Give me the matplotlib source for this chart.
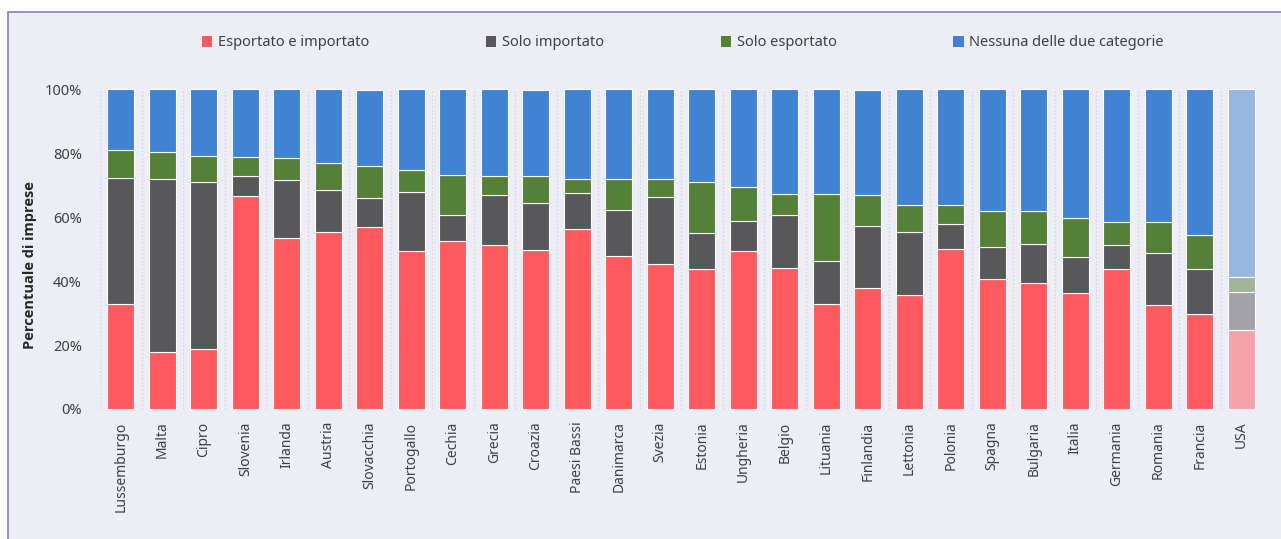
import matplotlib.pyplot as plt
from matplotlib.patches import Rectangle, Patch
import numpy as np

plt.rcParams['font.family'] = ['Noto Sans', 'DejaVu Sans']

paesi = ['Lussemburgo', 'Malta', 'Cipro', 'Slovenia', 'Irlanda', 'Austria',
         'Slovacchia', 'Portogallo', 'Cechia', 'Grecia', 'Croazia',
         'Paesi Bassi', 'Danimarca', 'Svezia', 'Estonia', 'Ungheria',
         'Belgio', 'Lituania', 'Finlandia', 'Lettonia', 'Polonia', 'Spagna',
         'Bulgaria', 'Italia', 'Germania', 'Romania', 'Francia', 'USA']

# quote percentuali per categoria di impresa
esp_imp = [32.9, 17.7, 18.8, 66.7, 53.5, 55.5, 56.8, 49.4, 52.5, 51.4, 49.7,
           56.3, 47.8, 45.4, 43.8, 49.5, 44.0, 32.8, 37.8, 35.7, 50.0, 40.6,
           39.5, 36.4, 43.9, 32.5, 29.7, 24.7]
solo_imp = [39.4, 54.1, 52.2, 6.3, 18.1, 13.1, 9.2, 18.6, 8.2, 15.5, 14.8,
            11.2, 14.5, 20.9, 11.3, 9.3, 16.8, 13.6, 19.4, 19.8, 7.8, 10.2,
            12.2, 11.1, 7.5, 16.4, 14.1, 11.9]
solo_esp = [8.7, 8.6, 8.1, 5.8, 6.8, 8.3, 10.0, 6.7, 12.6, 5.9, 8.3,
            4.4, 9.6, 5.5, 15.9, 10.7, 6.5, 20.9, 9.6, 8.4, 6.0, 11.0,
            10.1, 12.3, 7.2, 9.5, 10.7, 4.7]
nessuna = [19.0, 19.6, 20.9, 21.2, 21.6, 23.1, 23.8, 25.3, 26.7, 27.2, 27.0,
           28.1, 28.1, 28.2, 29.0, 30.5, 32.7, 32.7, 33.0, 36.1, 36.2, 38.2,
           38.2, 40.2, 41.4, 41.6, 45.5, 58.7]

serie = [esp_imp, solo_imp, solo_esp, nessuna]
nomi = ['Esportato e importato', 'Solo importato', 'Solo esportato',
        'Nessuna delle due categorie']
colori_ue = ['#FF5A5F', '#58585A', '#548038', '#4083D3']
colori_usa = ['#F5A3A8', '#A3A2A8', '#A1B497', '#97B6E0']

bg = '#ECEDF5'
testo = '#404040'

fig = plt.figure(figsize=(12.81, 5.39), dpi=100, facecolor='white')
cornice = Rectangle((8 / 1281, -0.1), 1.1, 1.1 - 12 / 539,
                    transform=fig.transFigure, facecolor=bg,
                    edgecolor='#8080C8', linewidth=1.2, zorder=-10)
fig.patches.append(cornice)

ax = fig.add_axes([100 / 1281, 1 - 409 / 539, 1162 / 1281, 319.7 / 539])
ax.patch.set_visible(False)

x = np.arange(len(paesi))
colori = [[colori_usa[k] if p == 'USA' else colori_ue[k] for p in paesi]
          for k in range(4)]
base = np.zeros(len(paesi))
for k, vals in enumerate(serie):
    ax.bar(x, vals, 0.65, bottom=base, color=colori[k], edgecolor='white',
           linewidth=0.8, zorder=3)
    base += np.array(vals)

for xv in np.arange(-0.5, len(paesi), 1.0):
    ax.axvline(xv, color='#D2D3DE', linestyle=':', linewidth=1.0, zorder=1)

ax.set_xlim(-0.5, len(paesi) - 0.5)
ax.set_ylim(0, 100)
ax.set_yticks(range(0, 101, 20))
ax.set_yticklabels([f'{v}%' for v in range(0, 101, 20)])
ax.set_xticks(x)
ax.set_xticklabels(paesi, rotation=90)
ax.tick_params(axis='x', length=0, pad=9, labelsize=10, labelcolor=testo)
ax.tick_params(axis='y', length=0, pad=13, labelsize=10.5, labelcolor=testo)
for s in ax.spines.values():
    s.set_visible(False)

fig.text(30 / 1281, 1 - 265 / 539, 'Percentuale di imprese', rotation=90,
         ha='center', va='center', fontsize=10.5, fontweight='bold',
         family=['Open Sans', 'DejaVu Sans'], color='#262626')

handles = [Patch(facecolor=c, edgecolor='none') for c in colori_ue]
fig.legend(handles, nomi, loc='center', bbox_to_anchor=(683 / 1281, 1 - 43 / 539),
           ncol=4, frameon=False, fontsize=10.5, labelcolor=testo,
           handlelength=0.7, handleheight=0.7, handletextpad=0.4,
           columnspacing=8.0)

fig.savefig('out.png', dpi=100, facecolor='white')
